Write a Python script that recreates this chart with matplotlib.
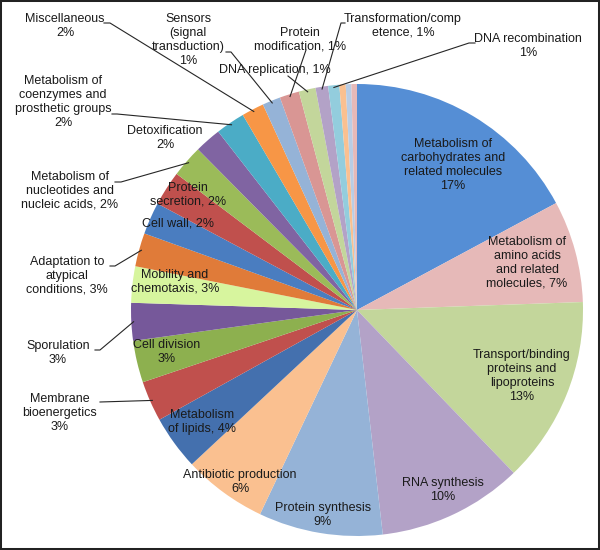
import numpy as np
import matplotlib
matplotlib.use('Agg')
from matplotlib import pyplot as plt
from matplotlib.patches import Rectangle

plt.rcParams['font.family'] = ['Liberation Sans', 'DejaVu Sans']

# categories, clockwise from 12 o'clock
labels = [
    'Metabolism of\ncarbohydrates and\nrelated molecules\n17%',
    'Metabolism of\namino acids\nand related\nmolecules, 7%',
    'Transport/binding\nproteins and\nlipoproteins\n13%',
    'RNA synthesis\n10%',
    'Protein synthesis\n9%',
    'Antibiotic production\n6%',
    'Metabolism\nof lipids, 4%',
    'Membrane\nbioenergetics\n3%',
    'Cell division\n3%',
    'Sporulation\n3%',
    'Mobility and\nchemotaxis, 3%',
    'Adaptation to\natypical\nconditions, 3%',
    'Cell wall, 2%',
    'Protein\nsecretion, 2%',
    'Metabolism of\nnucleotides and\nnucleic acids, 2%',
    'Detoxification\n2%',
    'Metabolism of\ncoenzymes and\nprosthetic groups\n2%',
    'Miscellaneous\n2%',
    'Sensors\n(signal\ntransduction)\n1%',
    'Protein\nmodification, 1%',
    'DNA replication, 1%',
    'Transformation/comp\netence, 1%',
    'DNA recombination\n1%',
    '', '', '',
]
values = [17.2, 7.3, 13.4, 10.4, 8.9, 6.0, 3.9, 2.9, 3.0, 2.7, 2.6, 2.4, 2.3,
          2.5, 2.3, 1.9, 2.1, 1.6, 1.3, 1.4, 1.2, 0.9, 0.8, 0.45, 0.4, 0.4]
colors = ['#558ED5', '#E6B9B8', '#C3D69B', '#B3A2C7', '#95B3D7', '#FAC090',
          '#4470AE', '#C0504D', '#8DB04F', '#76589A', '#D7F59E', '#E07B39',
          '#4A7DC0', '#C0504D', '#9BBB59', '#8064A2', '#4BACC6', '#F79646',
          '#95B3D7', '#D99694', '#C3D69B', '#B3A2C7', '#93CDDD', '#FAC090',
          '#B9CDE5', '#E6B9B8']

# label placement in pixels (x from left, y from top)
label_pos = {
    0: (453, 165), 1: (527, 263), 2: (522, 376), 3: (443, 490), 4: (323, 515),
    5: (240, 482), 6: (202, 422), 8: (167, 352), 10: (175, 282), 12: (178, 223),
    13: (188, 195), 15: (165, 138), 20: (275, 70),
    7: (60, 413), 9: (58, 353), 11: (67, 276), 14: (70, 191), 16: (63, 102),
    17: (65, 26), 18: (188, 40), 19: (300, 40), 21: (403, 26), 22: (528, 46),
}
# leader line start and horizontal stub length (px, + to the right)
leader_start = {
    7: ((100, 402), 0), 9: ((95, 350), 5), 11: ((110, 266), 5),
    14: ((115, 182), 6), 16: ((112, 114), 5), 17: ((104, 23), 6),
    18: ((226, 52), 5), 19: ((306, 50), 0), 20: ((288, 76), 0),
    21: ((345, 23), -4), 22: ((475, 43), -6),
}

W, H = 600, 550
CX, CY, R = 357, 310, 226


def px2data(p):
    return (p[0] - CX) / R, (CY - p[1]) / R


fig = plt.figure(figsize=(W / 100, H / 100), dpi=100)
ax = fig.add_axes([(CX - R) / W, (H - CY - R) / H, 2 * R / W, 2 * R / H])
wedges, _ = ax.pie(values, colors=colors, startangle=90, counterclock=False,
                   radius=1, wedgeprops=dict(linewidth=0))
ax.set_xlim(-1, 1)
ax.set_ylim(-1, 1)
ax.axis('off')

for i, w in enumerate(wedges):
    if i in label_pos:
        x, y = px2data(label_pos[i])
        ax.text(x, y, labels[i], ha='center', va='center', fontsize=9,
                color='#1a1a1a', linespacing=1.2, clip_on=False)
    if i in leader_start:
        (px, py), stub = leader_start[i]
        th = np.deg2rad((w.theta1 + w.theta2) / 2)
        ex, ey = 0.99 * np.cos(th), 0.99 * np.sin(th)
        sx, sy = px2data((px, py))
        mx, my = px2data((px + stub, py))
        ax.plot([sx, mx, ex], [sy, my, ey], color='#262626', lw=0.8,
                clip_on=False)

fig.patches.append(Rectangle((0, 0), 1, 1, transform=fig.transFigure,
                             fill=False, edgecolor='#222222', lw=2.9))

plt.savefig('out.png', dpi=100)
